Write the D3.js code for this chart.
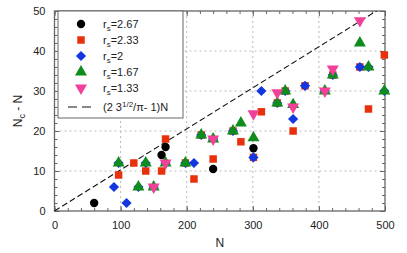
<!DOCTYPE html>
<html>
<head>
<meta charset="utf-8">
<script src="https://cdn.jsdelivr.net/npm/d3@7"></script>
<style>
  body { margin: 0; background: #fff; }
  text { font-family: "Liberation Sans", Arial, sans-serif; }
</style>
</head>
<body>
<script>
// data: N and Nc - N for each rs
const blackN = [60, 162, 168, 240, 301]
const blackV = [2, 14, 16, 10.5, 15.7]

const redN = [97, 120, 138, 162, 168, 198, 211, 222, 240, 270, 282, 301, 313, 337, 349, 361, 379, 421, 462, 475, 499]
const redV = [9, 12, 10, 10, 18, 12, 8, 19, 13, 20, 17.3, 13.4, 24.8, 27, 30, 20, 31.3, 34, 36, 25.5, 39]

const blueN = [90, 97, 109, 127, 138, 150, 168, 198, 211, 222, 240, 270, 301, 313, 337, 349, 361, 379, 409, 421, 462, 475, 499]
const blueV = [6, 12, 2, 6, 12, 6, 12, 12, 12, 19, 18, 20, 13.4, 30, 27, 30, 23, 31.3, 30, 34, 36, 36, 30]

const greenN = [97, 127, 138, 150, 168, 198, 222, 240, 270, 282, 301, 337, 349, 361, 409, 421, 462, 475, 499]
const greenV = [12, 6, 12, 6, 12, 12, 19, 18, 20, 22, 18.3, 27, 30, 26.6, 30, 34, 42, 36, 30]

const pinkN = [150, 168, 240, 301, 337, 361, 409, 421, 462]
const pinkV = [6, 12, 18, 24.3, 29.6, 26, 30, 35.5, 47.6]

const xTicks = [0, 100, 200, 300, 400, 500]
const yTicks = [0, 10, 20, 30, 40, 50]
const slope = 2 * Math.sqrt(3) / Math.PI - 1

const width = 407
const height = 253
const pLeft = 54.5, pRight = 385, pTop = 11, pBottom = 211

const x = d3.scaleLinear().domain([0, 500]).range([pLeft, pRight])
const y = d3.scaleLinear().domain([0, 50]).range([pBottom, pTop])

const svg = d3.select('body').append('svg')
  .attr('width', width)
  .attr('height', height)

svg.append('defs').append('clipPath').attr('id', 'plot')
  .append('rect')
  .attr('x', pLeft).attr('y', pTop)
  .attr('width', pRight - pLeft).attr('height', pBottom - pTop)

// grid
const grid = svg.append('g')
  .attr('stroke', '#bbb')
  .attr('stroke-dasharray', '2,3')
grid.selectAll('.gx').data(xTicks.slice(1, -1)).enter().append('line')
  .attr('x1', d => x(d)).attr('x2', d => x(d))
  .attr('y1', pTop).attr('y2', pBottom)
grid.selectAll('.gy').data(yTicks.slice(1, -1)).enter().append('line')
  .attr('y1', d => y(d)).attr('y2', d => y(d))
  .attr('x1', pLeft).attr('x2', pRight)

// axes, ticks inside, mirrored
const axisColor = '#666'
function styleAxis(g) {
  g.select('.domain').remove()
  g.selectAll('line').attr('stroke', axisColor)
  g.selectAll('text').attr('fill', '#222').attr('font-size', '11px')
}
const minorX = d3.range(0, 501, 20)
const minorY = d3.range(0, 51, 2)

svg.append('g').attr('transform', 'translate(0,' + pBottom + ')')
  .call(d3.axisBottom(x).tickValues(minorX).tickSize(-3).tickFormat(''))
  .call(styleAxis)
svg.append('g').attr('transform', 'translate(0,' + pBottom + ')')
  .call(d3.axisBottom(x).tickValues(xTicks).tickSize(-5).tickPadding(10).tickFormat(d3.format('d')))
  .call(styleAxis)
svg.append('g').attr('transform', 'translate(0,' + pTop + ')')
  .call(d3.axisTop(x).tickValues(minorX).tickSize(-3).tickFormat(''))
  .call(styleAxis)
svg.append('g').attr('transform', 'translate(0,' + pTop + ')')
  .call(d3.axisTop(x).tickValues(xTicks).tickSize(-5).tickFormat(''))
  .call(styleAxis)
svg.append('g').attr('transform', 'translate(' + pLeft + ',0)')
  .call(d3.axisLeft(y).tickValues(minorY).tickSize(-3).tickFormat(''))
  .call(styleAxis)
svg.append('g').attr('transform', 'translate(' + pLeft + ',0)')
  .call(d3.axisLeft(y).tickValues(yTicks).tickSize(-5).tickPadding(9).tickFormat(d3.format('d')))
  .call(styleAxis)
svg.append('g').attr('transform', 'translate(' + pRight + ',0)')
  .call(d3.axisRight(y).tickValues(minorY).tickSize(-3).tickFormat(''))
  .call(styleAxis)
svg.append('g').attr('transform', 'translate(' + pRight + ',0)')
  .call(d3.axisRight(y).tickValues(yTicks).tickSize(-5).tickFormat(''))
  .call(styleAxis)

svg.append('rect')
  .attr('x', pLeft).attr('y', pTop)
  .attr('width', pRight - pLeft).attr('height', pBottom - pTop)
  .attr('fill', 'none').attr('stroke', axisColor).attr('stroke-width', 1.3)

// dashed reference line
svg.append('line')
  .attr('clip-path', 'url(#plot)')
  .attr('x1', x(0)).attr('y1', y(0))
  .attr('x2', x(500)).attr('y2', y(500 * slope))
  .attr('stroke', '#111').attr('stroke-width', 1.1)
  .attr('stroke-dasharray', '6,3')

// diamond = square turned 45 degrees
const series = [
  { n: blackN, v: blackV, type: d3.symbolCircle, size: 55, color: '#000000', label: '=2.67', rot: 0 },
  { n: redN, v: redV, type: d3.symbolSquare, size: 56, color: '#e8300c', label: '=2.33', rot: 0 },
  { n: blueN, v: blueV, type: d3.symbolSquare, size: 52, color: '#1236e0', label: '=2', rot: 45 },
  { n: greenN, v: greenV, type: d3.symbolTriangle, size: 62, color: '#0e8c1c', label: '=1.67', rot: 0 },
  { n: pinkN, v: pinkV, type: d3.symbolTriangle, size: 62, color: '#f0409a', label: '=1.33', rot: 180 }
]

series.forEach(s => {
  const sym = d3.symbol().type(s.type).size(s.size)
  svg.append('g').selectAll('path')
    .data(s.n.map((d, i) => [d, s.v[i]]))
    .enter().append('path')
    .attr('d', sym)
    .attr('transform', d => 'translate(' + x(d[0]) + ',' + y(d[1]) + ') rotate(' + s.rot + ')')
    .attr('fill', s.color)
})

// legend
const legend = svg.append('g')
legend.append('rect')
  .attr('x', 58).attr('y', 11).attr('width', 125).attr('height', 107)
  .attr('fill', '#fff').attr('stroke', axisColor).attr('stroke-width', 1)

const rowY = [24, 40, 56, 72, 88]
series.forEach((s, i) => {
  const sym = d3.symbol().type(s.type).size(s.size)
  legend.append('path')
    .attr('d', sym)
    .attr('transform', 'translate(81,' + rowY[i] + ') rotate(' + s.rot + ')')
    .attr('fill', s.color)
  const t = legend.append('text')
    .attr('x', 103).attr('y', rowY[i] + 4)
    .attr('font-size', '11px').attr('fill', '#222')
  t.append('tspan').text('r')
  t.append('tspan').attr('font-size', '8px').attr('dy', 3).text('s')
  t.append('tspan').attr('dy', -3).text(s.label)
})

legend.append('line')
  .attr('x1', 68).attr('x2', 94).attr('y1', 107).attr('y2', 107)
  .attr('stroke', '#111').attr('stroke-width', 1.1).attr('stroke-dasharray', '9,5')
const lt = legend.append('text')
  .attr('x', 103).attr('y', 111)
  .attr('font-size', '11px').attr('fill', '#222')
lt.append('tspan').text('(2 3')
lt.append('tspan').attr('font-size', '8px').attr('dy', -4).text('1/2')
lt.append('tspan').attr('dy', 4).text('/\u03c0- 1)N')

// axis titles
svg.append('text')
  .attr('x', (pLeft + pRight) / 2).attr('y', 247)
  .attr('text-anchor', 'middle').attr('font-size', '12px').attr('fill', '#222')
  .text('N')

const yl = svg.append('text')
  .attr('transform', 'translate(22,' + ((pTop + pBottom) / 2) + ') rotate(-90)')
  .attr('text-anchor', 'middle').attr('font-size', '12px').attr('fill', '#222')
yl.append('tspan').text('N')
yl.append('tspan').attr('font-size', '9px').attr('dy', 3).text('c')
yl.append('tspan').attr('dy', -3).text(' - N')
</script>
</body>
</html>
